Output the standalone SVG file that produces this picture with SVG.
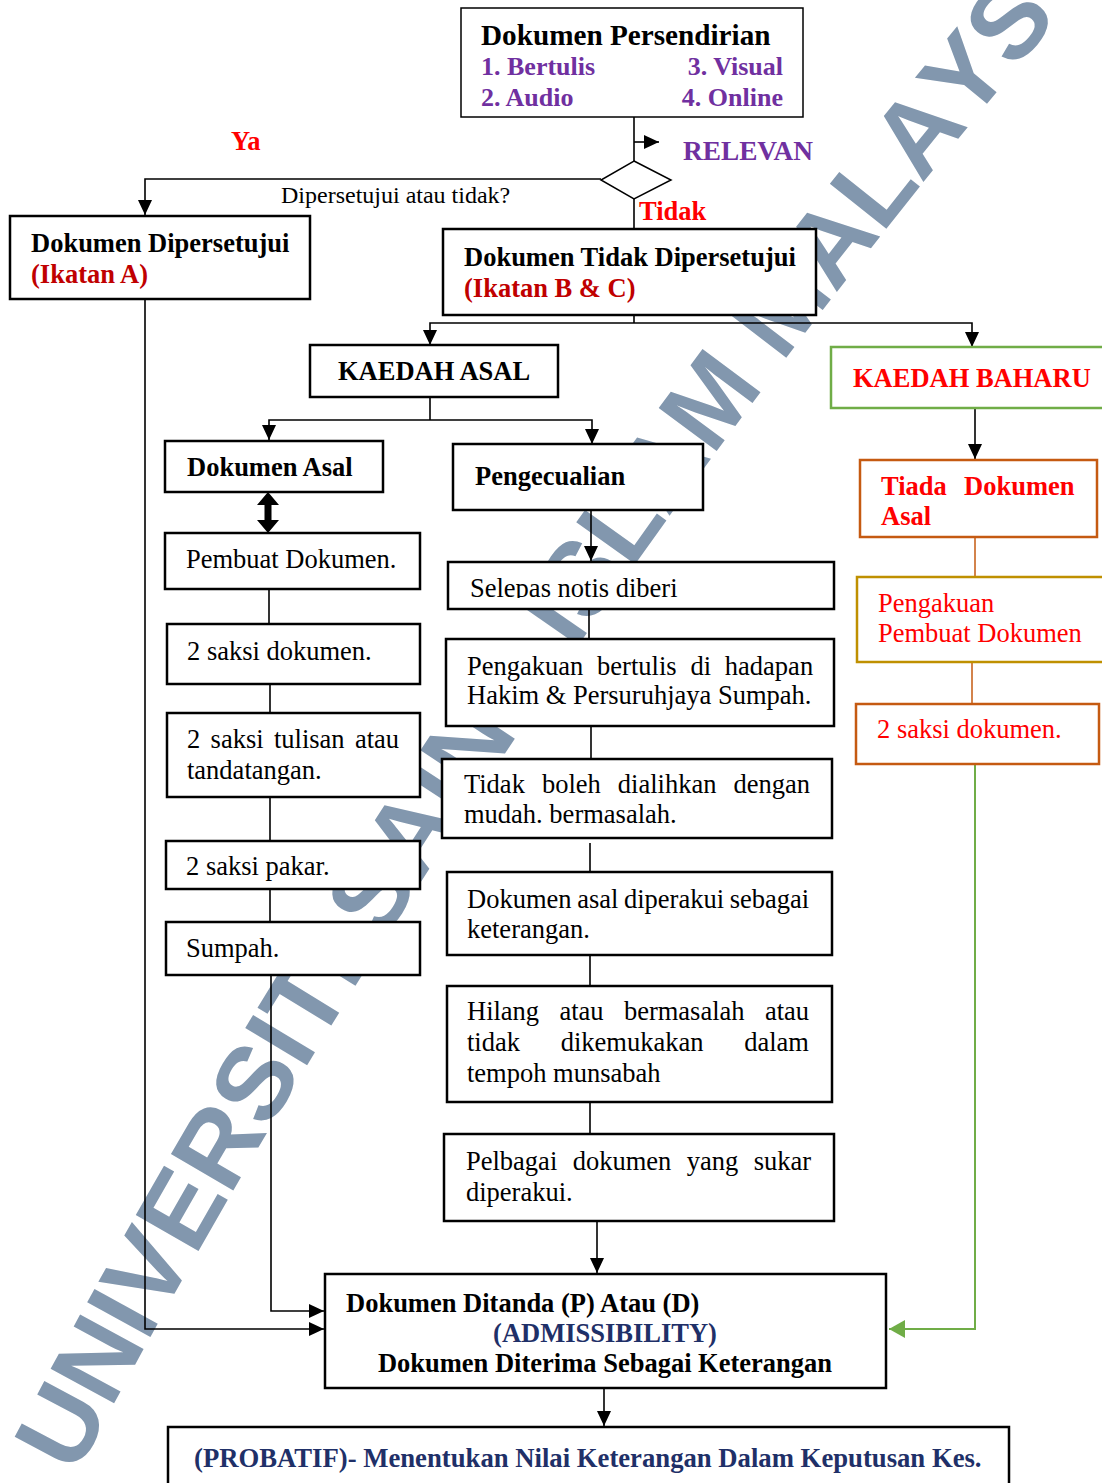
<svg xmlns="http://www.w3.org/2000/svg" width="1102" height="1483" viewBox="0 0 1102 1483">
<style>
text{font-family:"Liberation Serif","Times New Roman",serif;font-size:26.5px;fill:#000}
.b{font-weight:bold}
.pu{fill:#7030A0;font-size:26px}
.red{fill:#FF0000}
.dred{fill:#C00000}
.navy{fill:#1F3068}
.box{fill:#fff;stroke:#000;stroke-width:2.5}
.thin{fill:#fff;stroke:#000;stroke-width:1.5}
.ln{fill:none;stroke:#000;stroke-width:1.6}
.wm{font-family:"Liberation Sans",Arial,sans-serif;font-weight:bold;font-size:105px;fill:#8297AE;text-anchor:middle}
</style>
<defs>
<marker id="arr" markerUnits="userSpaceOnUse" markerWidth="15" markerHeight="14" refX="15" refY="7" orient="auto"><path d="M0,0 L15,7 L0,14 z" fill="#000"/></marker>
<marker id="arrG" markerUnits="userSpaceOnUse" markerWidth="16" markerHeight="18" refX="16" refY="9" orient="auto"><path d="M0,0 L16,9 L0,18 z" fill="#70AD47"/></marker>
<clipPath id="clipSel"><rect x="448" y="562" width="386" height="36"/></clipPath>
</defs>
<rect width="1102" height="1483" fill="#fff"/>
<g id="watermark">
<text class="wm" y="37.6" transform="translate(60 1425) rotate(-62)">U</text>
<text class="wm" y="37.6" transform="translate(95.9 1358.2) rotate(-61.5)">N</text>
<text class="wm" y="37.6" transform="translate(121.1 1312.2) rotate(-61.1)">I</text>
<text class="wm" y="37.6" transform="translate(145.3 1268.8) rotate(-60.7)">V</text>
<text class="wm" y="37.6" transform="translate(179.8 1207.8) rotate(-60.2)">E</text>
<text class="wm" y="37.6" transform="translate(216.3 1144.7) rotate(-59.7)">R</text>
<text class="wm" y="37.6" transform="translate(253.3 1081.8) rotate(-59.2)">S</text>
<text class="wm" y="37.6" transform="translate(278.8 1039.4) rotate(-58.9)">I</text>
<text class="wm" y="37.6" transform="translate(303.1 999.4) rotate(-58.5)">T</text>
<text class="wm" y="37.6" transform="translate(327.6 959.6) rotate(-58.2)">I</text>
<text class="wm" y="37.6" transform="translate(369.5 892.8) rotate(-57.6)">S</text>
<text class="wm" y="37.6" transform="translate(408.8 831.4) rotate(-57.1)">A</text>
<text class="wm" y="37.6" transform="translate(437.5 787.3) rotate(-56.8)">I</text>
<text class="wm" y="37.6" transform="translate(466.4 743.5) rotate(-56.4)">N</text>
<text class="wm" y="37.6" transform="translate(507.1 682.8) rotate(-55.9)">S</text>
<text class="wm" y="37.6" transform="translate(551.7 617.8) rotate(-55.3)">I</text>
<text class="wm" y="37.6" transform="translate(580.1 576.9) rotate(-55)">S</text>
<text class="wm" y="37.6" transform="translate(618.9 522) rotate(-54.5)">L</text>
<text class="wm" y="37.6" transform="translate(659.9 465.1) rotate(-54)">A</text>
<text class="wm" y="37.6" transform="translate(708.4 399.1) rotate(-53.4)">M</text>
<text class="wm" y="37.6" transform="translate(778.7 305.7) rotate(-52.6)">M</text>
<text class="wm" y="37.6" transform="translate(828.9 240.9) rotate(-52)">A</text>
<text class="wm" y="37.6" transform="translate(872.5 185.7) rotate(-51.5)">L</text>
<text class="wm" y="37.6" transform="translate(916.3 130.8) rotate(-51)">A</text>
<text class="wm" y="37.6" transform="translate(962.7 74) rotate(-50.5)">Y</text>
<text class="wm" y="37.6" transform="translate(1007.7 20) rotate(-50)">S</text>
<rect x="672" y="128" width="168" height="43" fill="#fff"/>
</g>
<g id="connectors">
<line class="ln" x1="634" y1="117" x2="634" y2="161"/>
<line class="ln" x1="634" y1="142" x2="659" y2="142" marker-end="url(#arr)"/>
<path class="ln" d="M601,179 H145 V215" marker-end="url(#arr)"/>
<line class="ln" x1="634" y1="199" x2="634" y2="229"/>
<line class="ln" x1="634" y1="315" x2="634" y2="323"/>
<path class="ln" d="M634,323 H430 V345" marker-end="url(#arr)"/>
<path class="ln" d="M634,323 H972 V347" marker-end="url(#arr)"/>
<line class="ln" x1="430" y1="397" x2="430" y2="420"/>
<path class="ln" d="M430,420 H269 V440" marker-end="url(#arr)"/>
<path class="ln" d="M430,420 H592 V444" marker-end="url(#arr)"/>
<polygon points="268,492 279,505 271.5,505 271.5,520 279,520 268,533 257,520 264.5,520 264.5,505 257,505" fill="#000"/>
<line class="ln" x1="269" y1="589" x2="269" y2="624"/>
<line class="ln" x1="270" y1="684" x2="270" y2="713"/>
<line class="ln" x1="270" y1="797" x2="270" y2="841"/>
<line class="ln" x1="270" y1="889" x2="270" y2="922"/>
<path class="ln" d="M271,975 V1311 H324" marker-end="url(#arr)"/>
<path class="ln" d="M145,299 V1329 H324" marker-end="url(#arr)"/>
<line class="ln" x1="591" y1="510" x2="591" y2="561" marker-end="url(#arr)"/>
<line class="ln" x1="589" y1="609" x2="589" y2="639"/>
<line class="ln" x1="591" y1="726" x2="591" y2="759"/>
<line class="ln" x1="590" y1="843" x2="590" y2="872"/>
<line class="ln" x1="590" y1="955" x2="590" y2="986"/>
<line class="ln" x1="590" y1="1102" x2="590" y2="1134"/>
<line class="ln" x1="597" y1="1221" x2="597" y2="1273" marker-end="url(#arr)"/>
<line class="ln" x1="604" y1="1377" x2="604" y2="1426" marker-end="url(#arr)"/>
<line class="ln" x1="975" y1="408" x2="975" y2="459" marker-end="url(#arr)"/>
<line x1="975" y1="537" x2="975" y2="577" stroke="#C55A11" stroke-width="1.5"/>
<line x1="972" y1="662" x2="972" y2="704" stroke="#C55A11" stroke-width="1.5"/>
<path d="M975,764 V1329 H889" fill="none" stroke="#70AD47" stroke-width="2" marker-end="url(#arrG)"/>
</g>
<g id="n-persendirian">
<rect class="thin" x="461" y="8" width="342" height="109"/>
<text class="b" x="481" y="45" style="font-size:29.2px">Dokumen Persendirian</text>
<text class="b pu" x="481" y="75">1. Bertulis</text>
<text class="b pu" x="783" y="75" text-anchor="end">3. Visual</text>
<text class="b pu" x="481" y="106">2. Audio</text>
<text class="b pu" x="783" y="106" text-anchor="end">4. Online</text>
</g>
<g id="n-relevan"><text class="b pu" x="683" y="160" style="font-size:27.3px">RELEVAN</text></g>
<g id="n-decision">
<polygon class="thin" points="634,161 671,180 634,199 601,180"/>
<text x="281" y="203" style="font-size:24px">Dipersetujui atau tidak?</text>
<text class="b red" x="231" y="150">Ya</text>
<text class="b red" x="639" y="220">Tidak</text>
</g>
<g id="n-dipersetujui">
<rect class="box" x="10" y="216" width="300" height="83"/>
<text class="b" x="31" y="252">Dokumen Dipersetujui</text>
<text class="b dred" x="31" y="283">(Ikatan A)</text>
</g>
<g id="n-tidak">
<rect class="box" x="443" y="229" width="373" height="86"/>
<text class="b" x="464" y="266">Dokumen Tidak Dipersetujui</text>
<text class="b dred" x="464" y="297">(Ikatan B &amp; C)</text>
</g>
<g id="n-kaedah-asal">
<rect class="box" x="310" y="345" width="248" height="52"/>
<text class="b" x="338" y="380">KAEDAH ASAL</text>
</g>
<g id="n-kaedah-baharu">
<rect x="831" y="347" width="290" height="61" fill="#fff" stroke="#70AD47" stroke-width="2.5"/>
<text class="b red" x="853" y="387">KAEDAH BAHARU</text>
</g>
<g id="n-dokumen-asal">
<rect class="box" x="165" y="441" width="218" height="51"/>
<text class="b" x="187" y="476">Dokumen Asal</text>
</g>
<g id="n-pengecualian">
<rect class="box" x="453" y="444" width="250" height="66"/>
<text class="b" x="475" y="485">Pengecualian</text>
</g>
<g id="n-pembuat">
<rect class="box" x="165" y="533" width="255" height="56"/>
<text x="186" y="568">Pembuat Dokumen.</text>
</g>
<g id="n-saksi-dokumen">
<rect class="box" x="167" y="624" width="253" height="60"/>
<text x="187" y="660">2 saksi dokumen.</text>
</g>
<g id="n-saksi-tulisan">
<rect class="box" x="167" y="713" width="253" height="84"/>
<text x="187" y="748" word-spacing="3.7">2 saksi tulisan atau</text>
<text x="187" y="779">tandatangan.</text>
</g>
<g id="n-saksi-pakar">
<rect class="box" x="166" y="841" width="254" height="48"/>
<text x="186" y="875">2 saksi pakar.</text>
</g>
<g id="n-sumpah">
<rect class="box" x="166" y="922" width="254" height="53"/>
<text x="186" y="957">Sumpah.</text>
</g>
<g id="n-selepas">
<rect class="box" x="448" y="562" width="386" height="47"/>
<text x="470" y="597" clip-path="url(#clipSel)">Selepas notis diberi</text>
</g>
<g id="n-pengakuan-bertulis">
<rect class="box" x="446" y="639" width="388" height="87"/>
<text x="467" y="675" word-spacing="7.2">Pengakuan bertulis di hadapan</text>
<text x="467" y="704">Hakim &amp; Persuruhjaya Sumpah.</text>
</g>
<g id="n-tidak-boleh">
<rect class="box" x="442" y="759" width="390" height="79"/>
<text x="464" y="793" word-spacing="10.4">Tidak boleh dialihkan dengan</text>
<text x="464" y="823">mudah. bermasalah.</text>
</g>
<g id="n-diperakui">
<rect class="box" x="447" y="872" width="385" height="83"/>
<text x="467" y="908" word-spacing="-1">Dokumen asal diperakui sebagai</text>
<text x="467" y="938">keterangan.</text>
</g>
<g id="n-hilang">
<rect class="box" x="447" y="986" width="385" height="116"/>
<text x="467" y="1020" word-spacing="13.7">Hilang atau bermasalah atau</text>
<text x="467" y="1051" word-spacing="34.1">tidak dikemukakan dalam</text>
<text x="467" y="1082">tempoh munsabah</text>
</g>
<g id="n-pelbagai">
<rect class="box" x="444" y="1134" width="390" height="87"/>
<text x="466" y="1170" word-spacing="8.8">Pelbagai dokumen yang sukar</text>
<text x="466" y="1201">diperakui.</text>
</g>
<g id="n-ditanda">
<rect class="box" x="325" y="1274" width="561" height="114"/>
<text class="b" x="346" y="1312">Dokumen Ditanda (P) Atau (D)</text>
<text class="b navy" x="605" y="1342" text-anchor="middle">(ADMISSIBILITY)</text>
<text class="b" x="605" y="1372" text-anchor="middle">Dokumen Diterima Sebagai Keterangan</text>
</g>
<g id="n-probatif">
<rect class="box" x="168" y="1427" width="841" height="70"/>
<text class="b navy" x="194" y="1467" style="font-size:26.7px">(PROBATIF)- Menentukan Nilai Keterangan Dalam Keputusan Kes.</text>
</g>
<g id="n-tiada">
<rect x="860" y="460" width="237" height="77" fill="#fff" stroke="#C55A11" stroke-width="2.5"/>
<text class="b red" x="881" y="495" word-spacing="10.7">Tiada Dokumen</text>
<text class="b red" x="881" y="525">Asal</text>
</g>
<g id="n-pengakuan-pembuat">
<rect x="857" y="577" width="260" height="85" fill="#fff" stroke="#BF9000" stroke-width="2.5"/>
<text class="red" x="878" y="612">Pengakuan</text>
<text class="red" x="878" y="642">Pembuat Dokumen</text>
</g>
<g id="n-saksi-right">
<rect x="856" y="704" width="243" height="60" fill="#fff" stroke="#C55A11" stroke-width="2.5"/>
<text class="red" x="877" y="738">2 saksi dokumen.</text>
</g>
</svg>
